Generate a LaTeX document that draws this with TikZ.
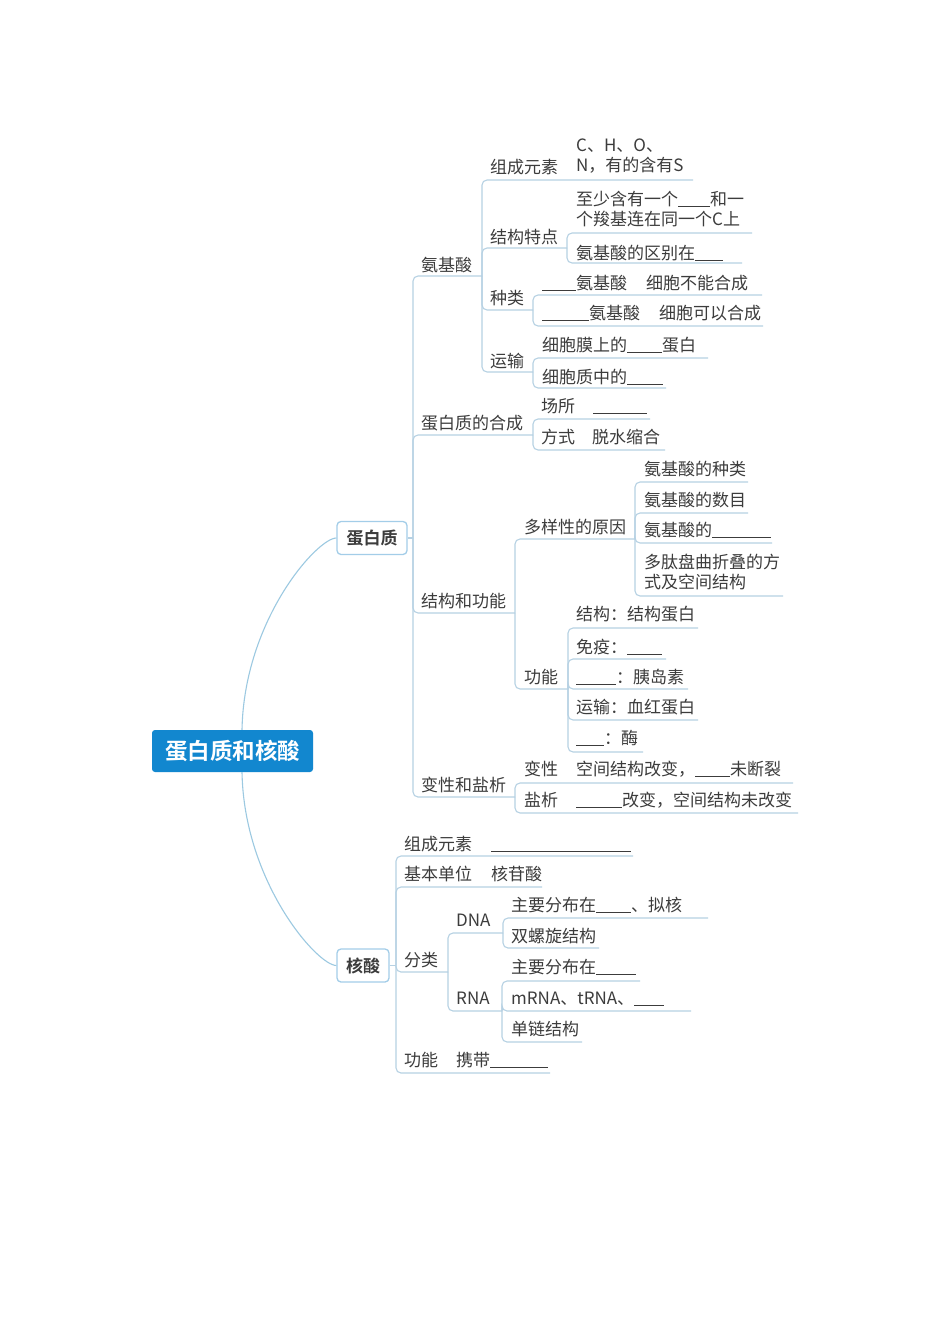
\documentclass[tikz,border=0pt]{standalone}
\usepackage{fontspec}
\setmainfont{Noto Sans CJK SC}[BoldFont={Noto Sans CJK SC Bold}]
\definecolor{txt}{HTML}{3C3C3C}
\definecolor{lnc}{HTML}{B6D1E3}
\definecolor{crv}{HTML}{9CC9E1}
\definecolor{bord}{HTML}{A3CDE8}
\definecolor{rootblue}{HTML}{1287CF}
\newcommand\bk[1]{\rule[-1.5pt]{#1pt}{1.1pt}}
\tikzset{
  tt/.style={anchor=west, inner sep=0pt, text=txt, font=\fontsize{17}{20}\selectfont, text height=15pt, text depth=2pt},
  tt2/.style={anchor=west, inner sep=0pt, text=txt, align=left, font=\fontsize{17}{20}\selectfont},
  lnstyle/.style={draw=lnc, line width=1.1pt, rounded corners=5pt},
  curve/.style={draw=crv, line width=1.1pt},
  sub/.style={draw=bord, line width=1.3pt, fill=white, rounded corners=4pt, inner sep=0pt, text=txt, font=\bfseries\fontsize{17}{20}\selectfont, minimum height=33pt},
  rootbox/.style={fill=rootblue, rounded corners=3pt, inner sep=0pt, text=white, font=\bfseries\fontsize{22.5}{26}\selectfont, minimum width=161pt, minimum height=42pt}
}
\newcommand\tx[4]{\node[tt] (#1) at (#2,#3) {#4};}
\newcommand\lnk[4]{\draw[lnstyle] (#1,#2) |- (#4,#3);}
\begin{document}
\begin{tikzpicture}[x=1pt,y=-1pt]
\useasboundingbox[fill=white] (0,0) rectangle (950,1344);

% ---------- central nodes ----------
\node[rootbox] (root) at (232.5,751) {蛋白质和核酸};
\node[sub, minimum width=70pt] (prot) at (372,538) {蛋白质};
\node[sub, minimum width=52pt] (nuc) at (363,965.5) {核酸};

\draw[curve] ([xshift=9.5pt]root.north) .. controls +(2,-110) and +(-19,0) .. (prot.west);
\draw[curve] ([xshift=9.5pt]root.south) .. controls +(2,110) and +(-19,0) .. (nuc.west);

% ---------- protein branch lines ----------
\draw[lnstyle] (prot.east) -- (413,538);
\lnk{413}{538}{276}{482}
\lnk{413}{538}{435}{533}
\lnk{413}{538}{613}{515}
\lnk{413}{538}{797}{515}
% amino acid
\lnk{482}{276}{180}{693}
\lnk{482}{276}{248}{567}
\lnk{482}{276}{310}{533}
\lnk{482}{276}{372}{533}
\lnk{567}{248}{233}{752}
\lnk{567}{248}{263}{742}
\lnk{533}{310}{295}{762}
\lnk{533}{310}{326}{763}
\lnk{533}{372}{358}{708}
\lnk{533}{372}{388}{666}
% synthesis
\lnk{533}{435}{419}{650}
\lnk{533}{435}{450}{665}
% structure and function
\lnk{515}{613}{539}{635}
\lnk{515}{613}{689}{568}
\lnk{635}{539}{482}{748}
\lnk{635}{539}{513}{748}
\lnk{635}{539}{543}{772}
\lnk{635}{539}{596}{783}
\lnk{568}{689}{628}{698}
\lnk{568}{689}{659}{666}
\lnk{568}{689}{689}{688}
\lnk{568}{689}{720}{698}
\lnk{568}{689}{752}{643}
% denaturation
\lnk{515}{797}{783}{793}
\lnk{515}{797}{813}{798}

% ---------- nucleic acid branch lines ----------
\draw[lnstyle] (nuc.east) -- (396,965.5);
\lnk{396}{965.5}{856}{633}
\lnk{396}{965.5}{887}{542}
\lnk{396}{965.5}{972}{448}
\lnk{396}{965.5}{1073}{550}
\lnk{448}{972}{933}{503}
\lnk{448}{972}{1011}{502}
\lnk{503}{933}{918}{708}
\lnk{503}{933}{948}{599}
\lnk{502}{1011}{981}{640}
\lnk{502}{1011}{1011}{691}
\lnk{502}{1011}{1042}{582}

% ---------- protein texts ----------
\tx{aa}{421}{265}{氨基酸}
\tx{syn}{421}{423}{蛋白质的合成}
\tx{sf}{421}{601}{结构和功能}
\tx{den}{421}{785}{变性和盐析}

\tx{aael}{490}{167}{组成元素}
\node[tt2] (aaelv) at (576,156) {\fontsize{17}{22}\selectfont C、H、O、\\N，有的含有S};
\tx{aast}{490}{237}{结构特点}
\node[tt2] (aast1) at (576,209) {至少含有一个\bk{32}和一\\个羧基连在同一个C上};
\tx{aast2}{576}{253}{氨基酸的区别在\bk{28}}
\tx{aakind}{490}{298}{种类}
\tx{aak1}{542}{283}{\bk{34}氨基酸\hspace{19pt}细胞不能合成}
\tx{aak2}{542}{313}{\bk{47}氨基酸\hspace{19pt}细胞可以合成}
\tx{aatr}{490}{361}{运输}
\tx{aatr1}{542}{345}{细胞膜上的\bk{35}蛋白}
\tx{aatr2}{542}{377}{细胞质中的\bk{36}}

\tx{synp}{541}{406}{场所}
\tx{synpv}{593}{406}{\bk{54}}
\tx{synm}{541}{437}{方式}
\tx{synmv}{592}{437}{脱水缩合}

\tx{div}{524}{527}{多样性的原因}
\tx{div1}{644}{469}{氨基酸的种类}
\tx{div2}{644}{500}{氨基酸的数目}
\tx{div3}{644}{530}{氨基酸的\bk{59}}
\node[tt2] (div4) at (644,572) {多肽盘曲折叠的方\\式及空间结构};

\tx{fun}{524}{677}{功能}
\tx{fun1}{576}{614}{结构：结构蛋白}
\tx{fun2}{576}{647}{免疫：\bk{35}}
\tx{fun3}{576}{677}{\bk{40}：胰岛素}
\tx{fun4}{576}{707}{运输：血红蛋白}
\tx{fun5}{576}{738}{\bk{28}：酶}

\tx{bx}{524}{769}{变性}
\tx{bxv}{576}{769}{空间结构改变，\bk{35}未断裂}
\tx{yx}{524}{800}{盐析}
\tx{yxv}{576}{800}{\bk{46}改变，空间结构未改变}

% ---------- nucleic acid texts ----------
\tx{nel}{404}{844}{组成元素}
\tx{nelv}{491}{844}{\bk{140}}
\tx{nun}{404}{874}{基本单位}
\tx{nunv}{491}{874}{核苷酸}
\tx{ncl}{404}{960}{分类}
\tx{dna}{456}{920}{DNA}
\tx{rna}{456}{998}{RNA}
\tx{dna1}{511}{905}{主要分布在\bk{35}、拟核}
\tx{dna2}{511}{936}{双螺旋结构}
\tx{rna1}{511}{967}{主要分布在\bk{40}}
\tx{rna2}{511}{998}{mRNA、tRNA、\bk{30}}
\tx{rna3}{511}{1029}{单链结构}
\tx{nfn}{404}{1060}{功能}
\tx{nfnv}{456}{1060}{携带\bk{58}}
\end{tikzpicture}
\end{document}
